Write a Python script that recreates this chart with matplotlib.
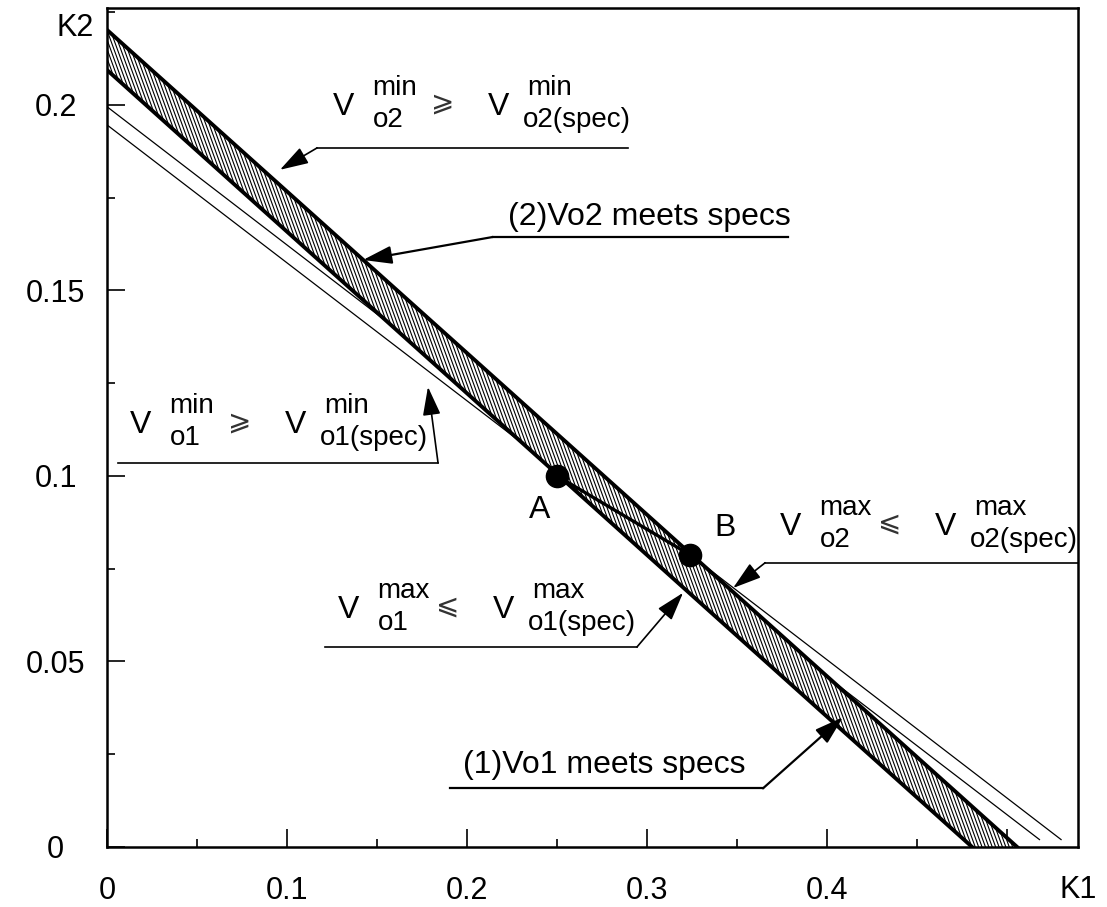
import numpy as np
import matplotlib.pyplot as plt
from matplotlib.ticker import MultipleLocator
from matplotlib.collections import LineCollection

plt.rcParams['font.family'] = ['Liberation Sans', 'DejaVu Sans']

# band edges: K1 intercept (K2=0) and K2 intercept (K1=0)
upper_k1, upper_k2 = 0.5056, 0.2202
lower_k1, lower_k2 = 0.4806, 0.2094

# thin constraint lines
vo1min_k1 = [0.0, 0.518]
vo1min_k2 = [0.1946, 0.002]
vo2max_k1 = [0.0, 0.530]
vo2max_k2 = [0.1995, 0.002]

# design points
pt_names = ['A', 'B']
pt_k1 = [0.25, 0.324]
pt_k2 = [0.100, 0.0787]

xticks = [0, 0.1, 0.2, 0.3, 0.4, 0.5]
xlabels = ['0', '0.1', '0.2', '0.3', '0.4', '']
yticks = [0, 0.05, 0.1, 0.15, 0.2]
ylabels = ['0', '0.05', '0.1', '0.15', '0.2']
xmax, ymax = 0.5394, 0.2261

fig = plt.figure(figsize=(11.07, 9.07), dpi=100)
ax = fig.add_axes([107 / 1107, 1 - 847 / 907, 971 / 1107, 839 / 907])
ax.set_xlim(0, xmax)
ax.set_ylim(0, ymax)

# thin lines
ax.plot(vo1min_k1, vo1min_k2, color='black', lw=0.9, zorder=1)
ax.plot(vo2max_k1, vo2max_k2, color='black', lw=0.9, zorder=1)

# hatched bands (steep hatch strokes, clipped to each band)
xa, xb = pt_k1
ya, yb = pt_k2
band2_x = [0, xb, xa, 0]
band2_y = [upper_k2, yb, ya, lower_k2]
band1_x = [xa, xb, upper_k1, lower_k1]
band1_y = [ya, yb, 0, 0]
steep = 2.75 * 1800 / 3710
starts = np.arange(-0.2, 0.6, 3.4 / 1800)
segs = [[(s, 0.24), (s + 0.24 / steep, 0)] for s in starts]
for bx, by in [(band2_x, band2_y), (band1_x, band1_y)]:
    poly = ax.fill(bx, by, facecolor='white', lw=0, zorder=2)[0]
    hl = LineCollection(segs, colors='black', linewidths=0.8, zorder=2.5)
    ax.add_collection(hl)
    hl.set_clip_path(poly)

# thick edges
ax.plot([0, upper_k1], [upper_k2, 0], color='black', lw=2.8, zorder=3)
ax.plot([0, lower_k1], [lower_k2, 0], color='black', lw=2.8, zorder=3)
ax.plot(pt_k1, pt_k2, color='black', lw=2.4, zorder=3)

# points A, B
ax.plot(pt_k1, pt_k2, 'o', color='black', ms=16, zorder=4)
ax.text(0.2406, 0.0908, 'A', fontsize=23, ha='center', va='center')
ax.text(0.3433, 0.0860, 'B', fontsize=23, ha='center', va='center')


def spec_label(x, y, sup, sub, rel, sub2):
    kw = dict(xycoords='data', textcoords='offset pixels', ha='left', va='center')
    ax.annotate('V', (x, y), xytext=(0, 0), fontsize=23, **kw)
    ax.annotate(sup, (x, y), xytext=(39, 19), fontsize=20, **kw)
    ax.annotate(sub, (x, y), xytext=(40, -13), fontsize=20, **kw)
    ax.annotate(rel, (x, y), xytext=(98, 3), fontsize=20, color='#333333', **kw)
    ax.annotate('V', (x, y), xytext=(155, 0), fontsize=23, **kw)
    ax.annotate(sup, (x, y), xytext=(194, 19), fontsize=20, **kw)
    ax.annotate(sub2, (x, y), xytext=(190, -13), fontsize=20, **kw)


def leader(x0, x1, y, tip, lw=1.2):
    ax.plot([x0, x1], [y, y], color='black', lw=lw, zorder=5)
    ax.annotate('', xy=tip, xytext=(x0 if tip[0] < x0 else x1, y),
                arrowprops=dict(arrowstyle='-|>,head_length=0.8,head_width=0.25',
                                color='black', lw=lw, mutation_scale=22,
                                shrinkA=0, shrinkB=0), zorder=5)


spec_label(0.1256, 0.1995, 'min', 'o2', '⩾', 'o2(spec)')
leader(0.1167, 0.2894, 0.1884, (0.0961, 0.1825))

ax.text(0.2228, 0.1698, '(2)Vo2 meets specs', fontsize=23, ha='left', va='center')
leader(0.2144, 0.3783, 0.1644, (0.1422, 0.1582), lw=1.6)

spec_label(0.0128, 0.1137, 'min', 'o1', '⩾', 'o1(spec)')
leader(0.0061, 0.1839, 0.1035, (0.1783, 0.1240))

spec_label(0.1283, 0.0639, 'max', 'o1', '⩽', 'o1(spec)')
leader(0.1211, 0.2944, 0.0539, (0.3200, 0.0685))

spec_label(0.3739, 0.0863, 'max', 'o2', '⩽', 'o2(spec)')
leader(0.3656, xmax, 0.0766, (0.3478, 0.0698))

ax.text(0.1978, 0.0221, '(1)Vo1 meets specs', fontsize=23, ha='left', va='center')
leader(0.1906, 0.3644, 0.0158, (0.4089, 0.0350), lw=1.6)

# axes
ax.set_xticks(xticks)
ax.set_xticklabels(xlabels, fontsize=22)
ax.set_yticks(yticks)
ax.set_yticklabels(ylabels, fontsize=22, ha='center')
ax.xaxis.set_minor_locator(MultipleLocator(0.05))
ax.yaxis.set_minor_locator(MultipleLocator(0.025))
ax.tick_params(which='major', direction='in', length=13, width=1.2)
ax.tick_params(which='minor', direction='in', length=6, width=1.2)
ax.tick_params(axis='x', which='major', pad=21)
ax.tick_params(axis='y', which='major', pad=37)
for s in ax.spines.values():
    s.set_linewidth(1.8)

ax.text(xmax, -0.0116, 'K1', fontsize=22, ha='center', va='center', clip_on=False)
ax.text(-0.0178, 0.2207, 'K2', fontsize=22, ha='center', va='center', clip_on=False)

fig.savefig('out.png', dpi=100)
